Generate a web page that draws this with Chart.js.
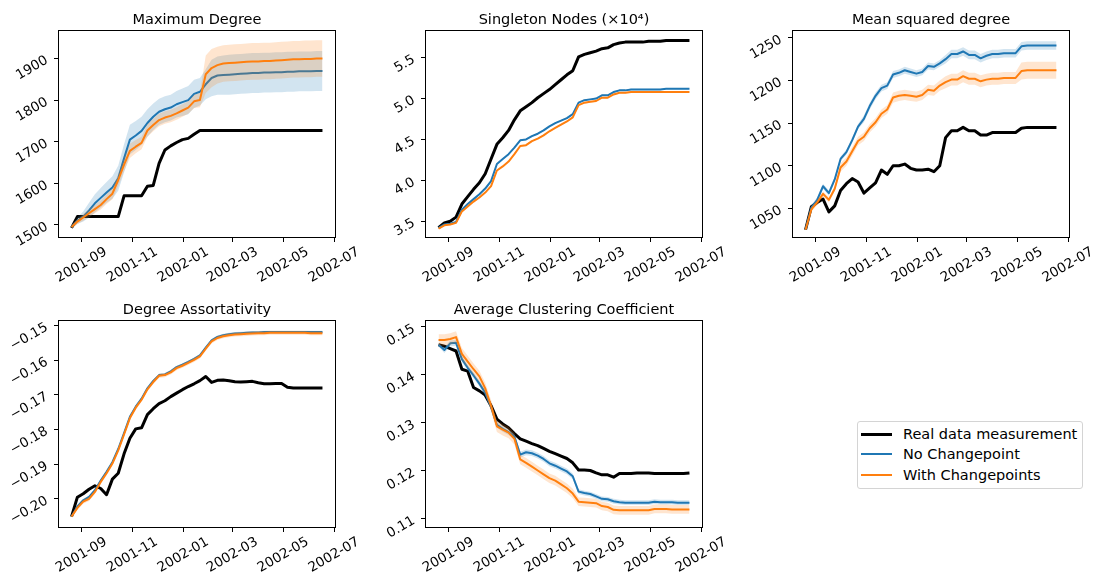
<!DOCTYPE html>
<html>
<head>
<meta charset="utf-8">
<script src="https://cdn.jsdelivr.net/npm/chart.js@4.4.1/dist/chart.umd.min.js"></script>
<style>
  html, body { margin: 0; padding: 0; background: #fff; }
  body { width: 1095px; height: 574px; overflow: hidden; position: relative; font-family: 'DejaVu Sans', sans-serif; }
  canvas { position: absolute; }
  #legend { position: absolute; left: 857px; top: 421px; width: 226px; height: 68px; box-sizing: border-box;
            border: 1px solid #d4d4d4; border-radius: 3px; background: #fff; }
  .item { position: absolute; left: 0; height: 20px; display: flex; align-items: center;
          font-size: 14.5px; color: #000; white-space: nowrap; }
  .swatch { display: inline-block; width: 31px; margin-left: 3px; margin-right: 11px; }
</style>
</head>
<body>
<canvas id="c0" width="367" height="284" style="left:0px;top:0px"></canvas>
<canvas id="c1" width="367" height="284" style="left:367px;top:0px"></canvas>
<canvas id="c2" width="367" height="284" style="left:734px;top:0px"></canvas>
<canvas id="c3" width="367" height="284" style="left:0px;top:290px"></canvas>
<canvas id="c4" width="367" height="284" style="left:367px;top:290px"></canvas>
<div id="legend"></div>
<script>
// ---------------- data ----------------
const dates = ['2001-08-20','2001-08-27','2001-09-03','2001-09-10','2001-09-17','2001-09-24',
  '2001-10-01','2001-10-08','2001-10-15','2001-10-22','2001-10-29','2001-11-05','2001-11-12',
  '2001-11-19','2001-11-26','2001-12-03','2001-12-10','2001-12-17','2001-12-24','2001-12-31',
  '2002-01-07','2002-01-14','2002-01-21','2002-01-28','2002-02-04','2002-02-11','2002-02-18',
  '2002-02-25','2002-03-04','2002-03-11','2002-03-18','2002-03-25','2002-04-01','2002-04-08',
  '2002-04-15','2002-04-22','2002-04-29','2002-05-06','2002-05-13','2002-05-20','2002-05-27',
  '2002-06-03','2002-06-10','2002-06-17'];
const xTickLabels = ['2001-09','2001-11','2002-01','2002-03','2002-05','2002-07'];
const seriesNames = ['Real data measurement','No Changepoint','With Changepoints'];
const titles = ['Maximum Degree','Singleton Nodes (×10⁴)','Mean squared degree',
  'Degree Assortativity','Average Clustering Coefficient'];

// Maximum Degree
const maxDegReal = [1493,1520,1520,1520,1520,1520,1520,1520,1520,1570,1570,1570,1570,1593,1595,1648,
  1680,1690,1698,1705,1708,1718,1727,1727,1727,1727,1727,1727,1727,1727,1727,1727,1727,1727,1727,
  1727,1727,1727,1727,1727,1727,1727,1727,1727];
const maxDegNoCP = [1495,1510,1520,1535,1552,1565,1578,1590,1612,1660,1705,1715,1726,1745,1760,1772,
  1778,1782,1790,1795,1800,1815,1820,1838,1853,1859,1860,1861,1862,1863,1864,1865,1865,1866,1866,
  1867,1867,1868,1868,1869,1869,1869,1870,1870];
const maxDegNoCPErr = [5,8,12,18,22,24,25,27,30,34,36,35,34,33,32,31,31,31,32,33,34,34,33,36,44,46,47,
  48,48,48,48,48,48,48,48,48,48,48,48,48,48,48,48,48];
const maxDegCP = [1495,1508,1518,1528,1538,1548,1562,1575,1608,1645,1678,1688,1697,1727,1740,1752,
  1758,1762,1768,1775,1782,1797,1800,1862,1877,1884,1888,1889,1890,1891,1892,1893,1893,1894,1894,
  1895,1896,1897,1898,1898,1899,1899,1900,1900];
const maxDegCPErr = [4,6,8,9,10,11,12,13,15,16,17,16,15,15,15,15,15,15,15,15,15,16,17,45,46,
  44,44,44,44,44,44,44,44,44,44,44,44,44,44,44,44,44,44,44];

// Singleton nodes (x10^4)
const singReal = [3.42,3.48,3.50,3.55,3.71,3.80,3.89,3.97,4.08,4.26,4.44,4.52,4.61,4.74,4.85,4.90,
  4.95,5.01,5.06,5.11,5.17,5.23,5.29,5.34,5.51,5.54,5.56,5.58,5.61,5.62,5.66,5.68,5.69,5.69,5.69,
  5.69,5.70,5.70,5.70,5.71,5.71,5.71,5.71,5.71];
const singNoCP = [3.42,3.46,3.47,3.49,3.64,3.71,3.77,3.83,3.90,3.99,4.20,4.26,4.32,4.40,4.49,4.50,
  4.54,4.57,4.61,4.66,4.70,4.73,4.76,4.81,4.95,4.98,4.99,5.00,5.04,5.04,5.08,5.10,5.10,5.11,5.11,
  5.11,5.11,5.11,5.11,5.12,5.12,5.12,5.12,5.12];
const singNoCPErr = [0.005,0.008,0.008,0.008,0.01,0.01,0.01,0.01,0.01,0.01,0.01,0.01,0.01,0.01,0.01,
  0.01,0.01,0.01,0.01,0.01,0.01,0.01,0.01,0.01,0.01,0.01,0.01,0.01,0.01,0.01,0.01,0.01,0.01,0.01,
  0.01,0.01,0.01,0.01,0.01,0.01,0.01,0.01,0.01,0.01];
const singCP = [3.41,3.45,3.46,3.48,3.62,3.68,3.74,3.79,3.85,3.93,4.12,4.17,4.23,4.32,4.42,4.43,
  4.48,4.51,4.55,4.60,4.64,4.68,4.72,4.77,4.92,4.95,4.96,4.97,5.01,5.01,5.05,5.07,5.07,5.08,5.08,
  5.08,5.08,5.08,5.08,5.08,5.08,5.08,5.08,5.08];
const singCPErr = [0.005,0.008,0.008,0.008,0.01,0.01,0.01,0.01,0.01,0.01,0.01,0.01,0.01,0.01,0.01,
  0.01,0.01,0.01,0.01,0.01,0.01,0.01,0.01,0.01,0.01,0.01,0.01,0.01,0.01,0.01,0.01,0.01,0.01,0.01,
  0.01,0.01,0.01,0.01,0.01,0.01,0.01,0.01,0.01,0.01];

// Mean squared degree
const msdReal = [1025,1052,1057,1061,1046,1053,1071,1079,1085,1081,1068,1074,1080,1095,1090,1100,
  1100,1102,1097,1095,1095,1096,1093,1100,1133,1141,1141,1145,1141,1141,1136,1136,1139,1139,1139,
  1139,1139,1144,1145,1145,1145,1145,1145,1145];
const msdNoCP = [1025,1051,1060,1076,1068,1084,1108,1116,1130,1146,1155,1170,1182,1191,1194,1207,
  1209,1212,1210,1208,1210,1217,1216,1220,1225,1231,1231,1234,1230,1230,1226,1229,1231,1231,1232,
  1232,1232,1240,1241,1241,1241,1241,1241,1241];
const msdNoCPErr = [1,3,3,3,3,3,3,3,3,3,4,4,4,4,4,4,4,4,4,4,4,4,4,4,5,5,5,5,5,5,5,5,5,5,5,5,5,5,5,5,
  5,5,5,5];
const msdCP = [1025,1049,1057,1067,1060,1073,1098,1105,1117,1129,1134,1144,1151,1161,1166,1180,
  1182,1183,1182,1181,1183,1189,1188,1194,1198,1201,1201,1205,1202,1202,1199,1201,1202,1202,1203,
  1203,1203,1211,1212,1212,1212,1212,1212,1212];
const msdCPErr = [1,3,3,3,3,3,5,5,5,5,5,5,5,5,5,6,6,6,6,6,6,6,6,6,7,7,7,7,7,7,7,7,7,7,7,7,7,10,10,10,
  10,10,10,10];

// Degree assortativity
const assortReal = [-0.2051,-0.1995,-0.1985,-0.1972,-0.1962,-0.1970,-0.1988,-0.1943,-0.1926,-0.1870,
  -0.1825,-0.1798,-0.1795,-0.1757,-0.1740,-0.1725,-0.1717,-0.1705,-0.1695,-0.1685,-0.1676,-0.1668,
  -0.1659,-0.1647,-0.1664,-0.1658,-0.1657,-0.1659,-0.1662,-0.1663,-0.1662,-0.1661,-0.1665,-0.1668,
  -0.1668,-0.1667,-0.1667,-0.1678,-0.1680,-0.1680,-0.1680,-0.1680,-0.1680,-0.1680];
const assortNoCP = [-0.2051,-0.2022,-0.2004,-0.1994,-0.1975,-0.1947,-0.1922,-0.1894,-0.1856,-0.1810,
  -0.1763,-0.1734,-0.1711,-0.1681,-0.1660,-0.1643,-0.1641,-0.1632,-0.1620,-0.1613,-0.1605,-0.1596,
  -0.1586,-0.1564,-0.1543,-0.1533,-0.1528,-0.1525,-0.1523,-0.1522,-0.1521,-0.1520,-0.1520,-0.1519,
  -0.1519,-0.1519,-0.1519,-0.1519,-0.1519,-0.1519,-0.1519,-0.1519,-0.1519,-0.1519];
const assortNoCPErr = [0.0002,0.0004,0.0004,0.0004,0.0004,0.0004,0.0004,0.0004,0.0004,0.0004,0.0004,
  0.0004,0.0004,0.0004,0.0004,0.0004,0.0004,0.0004,0.0004,0.0004,0.0004,0.0004,0.0004,0.0004,0.0004,
  0.0004,0.0004,0.0004,0.0004,0.0004,0.0004,0.0004,0.0004,0.0004,0.0004,0.0004,0.0004,0.0004,0.0004,
  0.0004,0.0004,0.0004,0.0004,0.0004];
const assortCP = [-0.2051,-0.2026,-0.2008,-0.2000,-0.1980,-0.1951,-0.1926,-0.1898,-0.1860,-0.1814,
  -0.1767,-0.1737,-0.1714,-0.1684,-0.1663,-0.1645,-0.1643,-0.1635,-0.1623,-0.1616,-0.1608,-0.1599,
  -0.1589,-0.1567,-0.1546,-0.1536,-0.1531,-0.1528,-0.1526,-0.1525,-0.1524,-0.1523,-0.1522,-0.1522,
  -0.1521,-0.1521,-0.1521,-0.1521,-0.1521,-0.1521,-0.1521,-0.1522,-0.1522,-0.1522];
const assortCPErr = [0.0002,0.0006,0.0006,0.0006,0.0006,0.0006,0.0006,0.0006,0.0006,0.0006,0.0006,
  0.0006,0.0006,0.0006,0.0006,0.0006,0.0006,0.0006,0.0006,0.0006,0.0006,0.0006,0.0006,0.0006,0.0006,
  0.0006,0.0006,0.0006,0.0006,0.0006,0.0006,0.0006,0.0006,0.0006,0.0006,0.0006,0.0006,0.0006,0.0006,
  0.0006,0.0006,0.0006,0.0006,0.0006];

// Average clustering coefficient
const clustReal = [0.1463,0.1460,0.1455,0.1450,0.1412,0.1408,0.1374,0.1367,0.1358,0.1336,0.1308,
  0.1298,0.1290,0.1278,0.1267,0.1262,0.1257,0.1253,0.1247,0.1241,0.1236,0.1231,0.1226,0.1217,0.1202,
  0.1202,0.1201,0.1196,0.1192,0.1192,0.1187,0.1195,0.1195,0.1195,0.1196,0.1196,0.1196,0.1195,0.1195,
  0.1195,0.1195,0.1195,0.1195,0.1196];
const clustNoCP = [0.1463,0.1452,0.1466,0.1467,0.1433,0.1415,0.1399,0.1382,0.1363,0.1333,0.1296,
  0.1288,0.1281,0.1272,0.1234,0.1239,0.1237,0.1232,0.1225,0.1216,0.1211,0.1205,0.1199,0.1189,0.1157,
  0.1154,0.1152,0.1147,0.1142,0.1141,0.1137,0.1135,0.1134,0.1134,0.1134,0.1134,0.1134,0.1136,0.1135,
  0.1135,0.1135,0.1134,0.1134,0.1134];
const clustNoCPErr = [0.0004,0.0006,0.0006,0.0006,0.0006,0.0006,0.0006,0.0006,0.0006,0.0006,0.0006,
  0.0006,0.0006,0.0006,0.0006,0.0006,0.0006,0.0006,0.0006,0.0006,0.0006,0.0006,0.0006,0.0006,0.0005,
  0.0005,0.0005,0.0005,0.0005,0.0005,0.0005,0.0005,0.0005,0.0005,0.0005,0.0005,0.0005,0.0005,0.0005,
  0.0005,0.0005,0.0005,0.0005,0.0005];
const clustCP = [0.1473,0.1473,0.1475,0.1479,0.1444,0.1428,0.1412,0.1397,0.1372,0.1336,0.1293,
  0.1286,0.1280,0.1267,0.1224,0.1217,0.1209,0.1201,0.1193,0.1185,0.1180,0.1172,0.1164,0.1153,0.1136,
  0.1135,0.1134,0.1133,0.1127,0.1125,0.1119,0.1118,0.1118,0.1118,0.1118,0.1118,0.1118,0.1121,0.1121,
  0.1121,0.1120,0.1120,0.1120,0.1120];
const clustCPErr = [0.0012,0.0012,0.0012,0.0012,0.0012,0.0012,0.0012,0.0012,0.0012,0.0012,0.0012,
  0.0012,0.0012,0.0012,0.0010,0.0010,0.0010,0.0010,0.0010,0.0010,0.0010,0.0010,0.0010,0.0010,0.0009,
  0.0009,0.0009,0.0009,0.0009,0.0009,0.0009,0.0009,0.0009,0.0009,0.0009,0.0009,0.0009,0.0009,0.0009,
  0.0009,0.0009,0.0009,0.0009,0.0009];

// y-axis tick values and labels
const yTicksMax = [1500,1600,1700,1800,1900];
const yLabelsMax = ['1500','1600','1700','1800','1900'];
const yTicksSing = [3.5,4.0,4.5,5.0,5.5];
const yLabelsSing = ['3.5','4.0','4.5','5.0','5.5'];
const yTicksMsd = [1050,1100,1150,1200,1250];
const yLabelsMsd = ['1050','1100','1150','1200','1250'];
const yTicksAssort = [-0.20,-0.19,-0.18,-0.17,-0.16,-0.15];
const yLabelsAssort = ['\u22120.20','\u22120.19','\u22120.18','\u22120.17','\u22120.16','\u22120.15'];
const yTicksClust = [0.11,0.12,0.13,0.14,0.15];
const yLabelsClust = ['0.11','0.12','0.13','0.14','0.15'];

// ---------------- drawing ----------------
const DAY = 86400000;
const toDay = s => { const p = s.split('-').map(Number); return Date.UTC(p[0], p[1] - 1, p[2] || 1) / DAY; };
const xs = dates.map(toDay);
const xTickVals = xTickLabels.map(toDay);
const xSpan = xs[xs.length - 1] - xs[0];
const xMin = xs[0] - 0.05 * xSpan, xMax = xs[xs.length - 1] + 0.05 * xSpan;
const pts = arr => arr.map((v, i) => ({ x: xs[i], y: v }));

const BLUE = '#1f77b4', ORANGE = '#ff7f0e';
const BLUE_BAND = 'rgba(31,119,180,0.2)', ORANGE_BAND = 'rgba(255,127,14,0.2)';

const panels = [
  { title: titles[0], real: maxDegReal, a: maxDegNoCP, aErr: maxDegNoCPErr, b: maxDegCP, bErr: maxDegCPErr,
    yMin: 1471, yMax: 1966, yTicks: yTicksMax, yLabels: yLabelsMax },
  { title: titles[1], real: singReal, a: singNoCP, aErr: singNoCPErr, b: singCP, bErr: singCPErr,
    yMin: 3.307, yMax: 5.826, yTicks: yTicksSing, yLabels: yLabelsSing },
  { title: titles[2], real: msdReal, a: msdNoCP, aErr: msdNoCPErr, b: msdCP, bErr: msdCPErr,
    yMin: 1016.5, yMax: 1258, yTicks: yTicksMsd, yLabels: yLabelsMsd },
  { title: titles[3], real: assortReal, a: assortNoCP, aErr: assortNoCPErr, b: assortCP, bErr: assortCPErr,
    yMin: -0.2081, yMax: -0.1487, yTicks: yTicksAssort, yLabels: yLabelsAssort },
  { title: titles[4], real: clustReal, a: clustNoCP, aErr: clustNoCPErr, b: clustCP, bErr: clustCPErr,
    yMin: 0.10833, yMax: 0.15125, yTicks: yTicksClust, yLabels: yLabelsClust }
];

Chart.defaults.font.family = "'DejaVu Sans', sans-serif";
Chart.defaults.color = '#000';

const spinePlugin = {
  id: 'spines',
  afterDraw(chart) {
    const a = chart.chartArea, ctx = chart.ctx;
    ctx.save();
    ctx.strokeStyle = '#000';
    ctx.lineWidth = 1;
    ctx.strokeRect(Math.round(a.left) - 0.5, Math.round(a.top) - 0.5,
                   Math.round(a.right - a.left) + 1, Math.round(a.bottom - a.top) + 1);
    ctx.restore();
  }
};

const hidden = { borderWidth: 0, borderColor: 'rgba(0,0,0,0)', pointRadius: 0 };
const TICK_FONT = 13.5;

panels.forEach((p, k) => {
  const lower = (m, e) => m.map((v, i) => v - e[i]);
  const upper = (m, e) => m.map((v, i) => v + e[i]);
  new Chart(document.getElementById('c' + k), {
    type: 'line',
    data: {
      datasets: [
        { label: seriesNames[0], data: pts(p.real), borderColor: '#000', borderWidth: 3, fill: false, order: 7 },
        Object.assign({ data: pts(lower(p.a, p.aErr)), fill: false, order: 6 }, hidden),
        Object.assign({ data: pts(upper(p.a, p.aErr)), fill: 1, backgroundColor: BLUE_BAND, order: 5 }, hidden),
        { label: seriesNames[1], data: pts(p.a), borderColor: BLUE, borderWidth: 2, fill: false, order: 4 },
        Object.assign({ data: pts(lower(p.b, p.bErr)), fill: false, order: 3 }, hidden),
        Object.assign({ data: pts(upper(p.b, p.bErr)), fill: 4, backgroundColor: ORANGE_BAND, order: 2 }, hidden),
        { label: seriesNames[2], data: pts(p.b), borderColor: ORANGE, borderWidth: 2, fill: false, order: 1 }
      ]
    },
    options: {
      responsive: false,
      animation: false,
      devicePixelRatio: 1,
      layout: { padding: { left: 0, right: 32, top: 0, bottom: 0 } },
      elements: {
        point: { radius: 0, hoverRadius: 0 },
        line: { tension: 0, borderJoinStyle: 'round', borderCapStyle: 'butt' }
      },
      plugins: {
        legend: { display: false },
        tooltip: { enabled: false },
        title: {
          display: true, text: p.title, fullSize: false, color: '#000',
          font: { size: 14.5, weight: 'normal', lineHeight: 1.2 },
          padding: { top: 12, bottom: 1.6 }
        }
      },
      scales: {
        x: {
          type: 'linear', min: xMin, max: xMax,
          afterFit: s => { s.height = 47; },
          afterBuildTicks: s => { s.ticks = xTickVals.map(v => ({ value: v })); },
          ticks: {
            callback: (v, i) => xTickLabels[i],
            autoSkip: false, minRotation: 30, maxRotation: 30, labelOffset: 24.4, padding: 2,
            font: { size: TICK_FONT }, color: '#000'
          },
          grid: { drawOnChartArea: false, drawTicks: true, tickLength: 5, color: '#000' },
          border: { display: false }
        },
        y: {
          type: 'linear', min: p.yMin, max: p.yMax,
          afterFit: s => { s.width = 59; },
          afterBuildTicks: s => { s.ticks = p.yTicks.map(v => ({ value: v })); },
          ticks: {
            callback: (v, i) => p.yLabels[i],
            autoSkip: false, minRotation: 30, maxRotation: 30, padding: 7, labelOffset: 1,
            font: { size: TICK_FONT }, color: '#000'
          },
          grid: { drawOnChartArea: false, drawTicks: true, tickLength: 5, color: '#000' },
          border: { display: false }
        }
      }
    },
    plugins: [spinePlugin]
  });
});

// ---------------- legend ----------------
const legendColors = ['#000', BLUE, ORANGE];
const legendWidths = [3, 2, 2];
const legendCenters = [12, 32, 53];
const lg = document.getElementById('legend');
seriesNames.forEach((name, i) => {
  const item = document.createElement('div');
  item.className = 'item';
  item.style.top = (legendCenters[i] - 10) + 'px';
  const sw = document.createElement('span');
  sw.className = 'swatch';
  sw.style.height = legendWidths[i] + 'px';
  sw.style.background = legendColors[i];
  const tx = document.createElement('span');
  tx.textContent = name;
  item.appendChild(sw);
  item.appendChild(tx);
  lg.appendChild(item);
});
</script>
</body>
</html>
